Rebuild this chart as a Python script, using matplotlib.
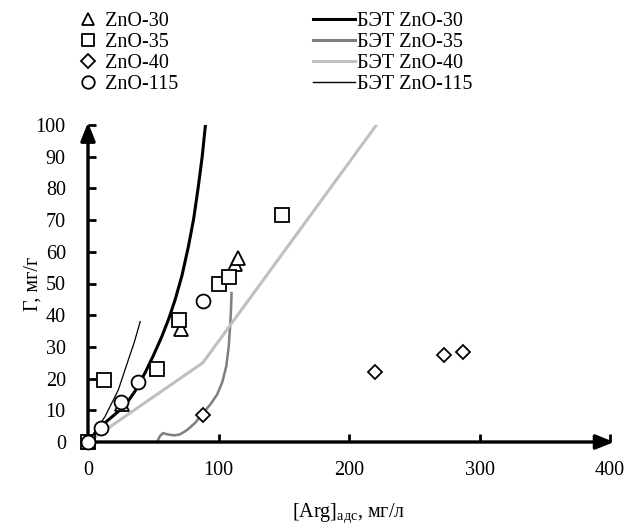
import matplotlib
matplotlib.use('Agg')
import matplotlib.pyplot as plt
from matplotlib.lines import Line2D

plt.rcParams['font.family'] = ['Liberation Serif', 'DejaVu Serif']
plt.rcParams['font.size'] = 14.5
plt.rcParams['mathtext.fontset'] = 'custom'
plt.rcParams['mathtext.rm'] = 'Liberation Serif'

# experimental points
x30 = [0, 26, 71, 113, 115]
y30 = [0, 12, 35.5, 56, 58]
x35 = [0, 12, 53, 70, 100, 108, 149]
y35 = [0, 19.5, 23, 38.5, 50, 52, 71.5]
x40 = [0, 88, 220, 273, 287]
y40 = [0, 8.5, 22, 27.5, 28.5]
x115 = [0, 10, 25, 38.5, 88]
y115 = [0, 4.5, 12.5, 19, 44.5]

# BET model curves
bet30_x = [0, 10, 20, 28.4, 36, 43.7, 50, 56.5, 62, 66.7, 72, 76.9, 81, 84.5, 87.5, 90]
bet30_y = [0, 5, 8.5, 11.5, 16, 21.8, 27.2, 33.2, 39, 44.8, 52.5, 61.6, 70.5, 80.5, 90, 100]
bet35_x = [53, 55, 57.5, 61, 66, 70.5, 76, 82, 88, 94, 99, 103, 106, 107.8, 109, 109.6, 110]
bet35_y = [0, 1.8, 2.8, 2.4, 2.1, 2.4, 3.8, 6, 9, 12, 15, 19, 24, 30, 37, 42, 47]
bet40_x = [0, 88, 221]
bet40_y = [0, 25, 100]
bet115_x = [0, 13, 23.2, 30.9, 35.5, 40]
bet115_y = [0, 8, 16.4, 25.9, 31.5, 38]

fig = plt.figure(figsize=(6.28, 5.26), dpi=100)
ax = fig.add_axes([88 / 628, 1 - 442 / 526, (610 - 88) / 628, (442 - 125) / 526])

ax.plot(bet30_x, bet30_y, color='black', lw=2.2, zorder=2)
ax.plot(bet35_x, bet35_y, color='#7f7f7f', lw=1.8, zorder=2)
ax.plot(bet40_x, bet40_y, color='#c0c0c0', lw=2.2, zorder=2)
ax.plot(bet115_x, bet115_y, color='black', lw=0.9, zorder=2)

mk = dict(ls='none', mfc='white', mec='black', mew=1.3, clip_on=False, zorder=4)
ax.plot(x30, y30, marker='^', ms=10, **mk)
ax.plot(x35, y35, marker='s', ms=10, **mk)
ax.plot(x40, y40, marker='D', ms=7.5, **mk)
ax.plot(x115, y115, marker='o', ms=10, **mk)

ax.set_xlim(0, 400)
ax.set_ylim(0, 100)
ax.set_xticks([0, 100, 200, 300, 400])
ax.set_yticks(range(0, 101, 10))
for s in ax.spines.values():
    s.set_visible(False)
ax.tick_params(direction='in', length=6, width=2, pad=14)
ax.tick_params(axis='y', pad=16)

# axes drawn as arrows
arr = dict(arrowstyle='-|>,head_length=0.55,head_width=0.22', color='black',
           lw=2.4, shrinkA=0, shrinkB=0, mutation_scale=20)
ax.annotate('', xy=(1.008, 0), xytext=(0, 0), xycoords='axes fraction', arrowprops=arr, zorder=3)
ax.annotate('', xy=(0, 1.008), xytext=(0, 0), xycoords='axes fraction', arrowprops=arr, zorder=3)

ax.set_ylabel('Г, мг/г')
ax.yaxis.set_label_coords(-0.088, 0.5)
ax.set_xlabel(r'[Arg]$_{\mathrm{адс}}$, мг/л')
ax.xaxis.set_label_coords(0.5, -0.186)

h1 = [Line2D([], [], marker=m, ms=s, **dict(mk, clip_on=True)) for m, s in
      [('^', 9), ('s', 9), ('D', 7), ('o', 9)]]
l1 = ['ZnO-30', 'ZnO-35', 'ZnO-40', 'ZnO-115']
fig.legend(h1, l1, loc='upper left', bbox_to_anchor=(60 / 628, 1.012), frameon=False,
           handlelength=1.0, handletextpad=0.35, labelspacing=0.1)

h2 = [Line2D([], [], color='black', lw=2.2), Line2D([], [], color='#7f7f7f', lw=2.2),
      Line2D([], [], color='#c0c0c0', lw=2.2), Line2D([], [], color='black', lw=1.0)]
l2 = ['БЭТ ZnO-30', 'БЭТ ZnO-35', 'БЭТ ZnO-40', 'БЭТ ZnO-115']
fig.legend(h2, l2, loc='upper left', bbox_to_anchor=(295 / 628, 1.012), frameon=False,
           handlelength=2.1, handletextpad=0.1, labelspacing=0.1)

fig.savefig('out.png', dpi=100)
